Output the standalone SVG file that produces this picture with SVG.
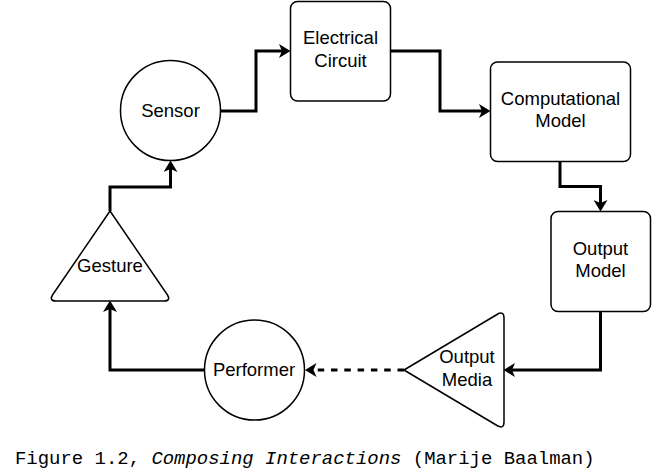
<svg xmlns="http://www.w3.org/2000/svg" width="652" height="472" viewBox="0 0 652 472">
<style>
.node{fill:#fff;stroke:#000;stroke-width:1.5}
.lbl{font-family:"Liberation Sans",Arial,sans-serif;font-size:18.5px;fill:#000;text-anchor:middle}
.edge{fill:none;stroke:#000;stroke-width:3;marker-end:url(#arr)}
.dash{stroke-dasharray:6.5 6.8}
.cap{font-family:"Liberation Mono","Courier New",monospace;font-size:18.95px;fill:#000}
</style>
<defs>
<marker id="arr" viewBox="0 0 13 14" refX="6" refY="7" markerWidth="13" markerHeight="14" markerUnits="userSpaceOnUse" orient="auto">
<path d="M1,0 L12.5,7 L1,14 L4,7 Z" fill="#000"/>
</marker>
</defs>
<rect width="652" height="472" fill="#fff"/>
<g id="connectors">
<path class="edge" d="M110,211 V187 H170.5 V167"/>
<path class="edge" d="M221,111 H256 V51 H284"/>
<path class="edge" d="M390,51 H440 V111 H484"/>
<path class="edge" d="M560,162 V186.5 H600.5 V205"/>
<path class="edge" d="M600.5,311 V370 H510"/>
<path class="edge dash" d="M404,370 H311.5"/>
<path class="edge" d="M204,370 H110 V307"/>
</g>
<g id="sensor">
<circle class="node" cx="170.5" cy="110.5" r="50"/>
<text class="lbl" x="170.5" y="116.5">Sensor</text>
</g>
<g id="electrical-circuit">
<rect class="node" x="290.5" y="1.5" width="100" height="99.5" rx="7"/>
<text class="lbl" x="340.5" y="44">Electrical</text>
<text class="lbl" x="340.5" y="66.5">Circuit</text>
</g>
<g id="computational-model">
<rect class="node" x="490.5" y="62" width="140" height="99.5" rx="7"/>
<text class="lbl" x="560.5" y="104.5">Computational</text>
<text class="lbl" x="560.5" y="127">Model</text>
</g>
<g id="output-model">
<rect class="node" x="551" y="211.5" width="99.5" height="100" rx="7"/>
<text class="lbl" x="600.5" y="254.5">Output</text>
<text class="lbl" x="600.5" y="277">Model</text>
</g>
<g id="output-media">
<path class="node" stroke-linejoin="round" d="M404,370 L497,314.5 Q504,310.5 504,318 L504,422 Q504,429.5 497,425.5 Z"/>
<text class="lbl" x="467" y="363">Output</text>
<text class="lbl" x="467" y="385.5">Media</text>
</g>
<g id="performer">
<circle class="node" cx="254.5" cy="370" r="50"/>
<text class="lbl" x="254" y="375.5">Performer</text>
</g>
<g id="gesture">
<path class="node" stroke-linejoin="round" d="M110,211 L167.5,295 Q171,301 164,301 L56,301 Q49,301 52.5,295 Z"/>
<text class="lbl" x="110" y="271.5">Gesture</text>
</g>
<text class="cap" x="15" y="464">Figure 1.2, <tspan font-style="italic">Composing Interactions</tspan> (Marije Baalman)</text>
</svg>
